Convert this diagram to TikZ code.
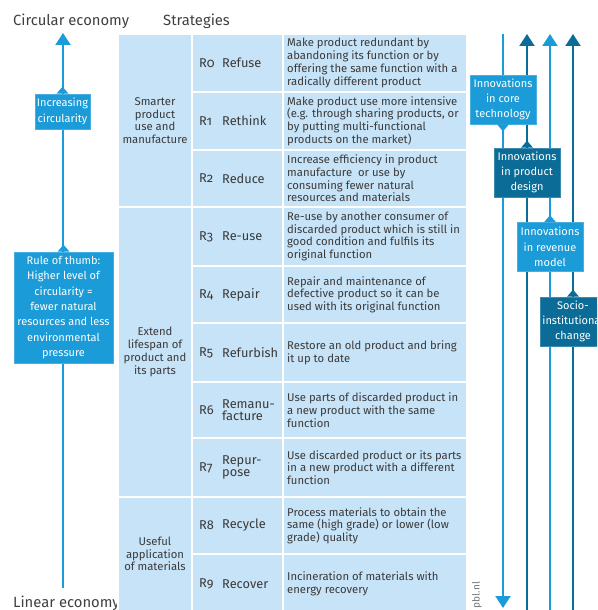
\documentclass[tikz,border=0pt]{standalone}
\usepackage{fontspec}
\setmainfont{Fira Sans}[Numbers=OldStyle]
\usetikzlibrary{arrows.meta}
\definecolor{bright}{HTML}{1B9BD8}
\definecolor{deep}{HTML}{0B6D97}
\definecolor{cellbg}{HTML}{C7E3F7}
\definecolor{txt}{HTML}{3A3A3A}
\newcommand\stratrow[6]{%
  \node[cellbox, minimum width=91, minimum height={#3-#2}] (r#1) at (237.5,{(#2+#3)/2}) {};
  \node[rlab, anchor=west] (rn#1) at (199,{(#2+#3)/2}) {#4};
  \node[rlab, anchor=west, align=left] (rs#1) at (222,{(#2+#3)/2}) {#5};
  \node[cellbox, minimum width=184, minimum height={#3-#2}] (d#1) at (375,{(#2+#3)/2}) {};
  \node[rtxt, anchor=west, align=left] (dt#1) at (287,{(#2+#3)/2}) {#6};
}
\begin{document}
\begin{tikzpicture}[x=1pt,y=-1pt,
  font=\fontsize{11.3}{12.7}\selectfont,
  cellbox/.style={fill=cellbg, draw=white, line width=2pt, inner sep=0pt, outer sep=0pt},
  rtxt/.style={text=txt, inner sep=0pt, font=\fontsize{11.3}{12.7}\selectfont},
  rlab/.style={text=txt, inner sep=0pt, font=\fontsize{12.8}{12.3}\selectfont},
  grptxt/.style={text=txt, inner sep=0pt, align=center, font=\fontsize{11.3}{12.7}\selectfont},
  bbox/.style={fill=#1, draw=#1!80!white, line width=0.6pt, text=white, align=center, inner sep=1pt,
    font=\fontsize{11}{15.3}\selectfont, minimum width=66, minimum height=49},
  head/.style={text=black!75, inner sep=0pt, anchor=west, font=\fontsize{14.8}{16}\selectfont},
  arr/.style={line width=2pt, -{Triangle[width=15pt,length=12pt]}},
]
\useasboundingbox (0,0) rectangle (597,610);
\clip (0,0) rectangle (597,610);

% headers
\node[head] (ce) at (13,21) {Circular economy};
\node[head] (st) at (163,21) {Strategies};
\node[head] (le) at (13,603) {Linear economy};

% group cells
\node[cellbox, minimum width=74, minimum height=173] (g1) at (155,120.5) {};
\node[cellbox, minimum width=74, minimum height=290] (g2) at (155,352) {};
\node[cellbox, minimum width=74, minimum height=117] (g3) at (155,555.5) {};
\node[grptxt] (g1t) at (155,120.5) {Smarter\\product\\use and\\manufacture};
\node[grptxt] (g2t) at (155,352) {Extend\\lifespan of\\product and\\its parts};
\node[grptxt] (g3t) at (155,554) {Useful\\application\\of materials};

% strategy rows
\stratrow{0}{34}{92}{R0}{Refuse}{Make product redundant by\\abandoning its function or by\\offering the same function with a\\radically different product}
\stratrow{1}{92}{150}{R1}{Rethink}{Make product use more intensive\\(e.g. through sharing products, or\\by putting multi-functional\\products on the market)}
\stratrow{2}{150}{207}{R2}{Reduce}{Increase efficiency in product\\manufacture \ or use by\\consuming fewer natural\\resources and materials}
\stratrow{3}{207}{266}{R3}{Re-use}{Re-use by another consumer of\\discarded product which is still in\\good condition and fulfils its\\original function}
\stratrow{4}{266}{323}{R4}{Repair}{Repair and maintenance of\\defective product so it can be\\used with its original function}
\stratrow{5}{323}{382}{R5}{Refurbish}{Restore an old product and bring\\it up to date}
\stratrow{6}{382}{438}{R6}{Remanu-\\facture}{Use parts of discarded product in\\a new product with the same\\function}
\stratrow{7}{438}{497}{R7}{Repur-\\pose}{Use discarded product or its parts\\in a new product with a different\\function}
\stratrow{8}{497}{554}{R8}{Recycle}{Process materials to obtain the\\same (high grade) or lower (low\\grade) quality}
\stratrow{9}{554}{614}{R9}{Recover}{Incineration of materials with\\energy recovery}

% left arrow
\coordinate (lbot) at (63,588);
\coordinate (ltop) at (63,33);
\draw[arr, bright] (lbot) -- (ltop);
\node[bbox=bright, minimum width=55, minimum height=35] (inc) at (62.5,111.5) {Increasing\\circularity};
\fill[bright] ([xshift=-6pt]inc.north) -- ([yshift=7pt]inc.north) -- ([xshift=6pt]inc.north) -- cycle;
\node[bbox=bright, minimum width=99, minimum height=111] (rule) at (63.5,307.5) {Rule of thumb:\\Higher level of\\circularity =\\fewer natural\\resources and less\\environmental\\pressure};
\fill[bright] ([xshift=-6pt]rule.north) -- ([yshift=7pt]rule.north) -- ([xshift=6pt]rule.north) -- cycle;

% right arrows
\coordinate (at) at (503,34);
\coordinate (ab) at (503,608);
\draw[arr, bright] (at) -- (ab);
\coordinate (bt) at (527,34);
\coordinate (bb) at (527,614);
\draw[arr, deep] (bb) -- (bt);
\coordinate (ct) at (550,34);
\coordinate (cb) at (550,614);
\draw[arr, bright] (cb) -- (ct);
\coordinate (dt) at (573,34);
\coordinate (db) at (573,614);
\draw[arr, deep] (db) -- (dt);

% right boxes
\node[bbox=bright] (core) at (503,99.5) {Innovations\\in core\\technology};
\fill[bright] ([xshift=-6pt]core.south) -- ([yshift=-7pt]core.south) -- ([xshift=6pt]core.south) -- cycle;
\node[bbox=deep] (design) at (527,172.5) {Innovations\\in product\\design};
\fill[deep] ([xshift=-6pt]design.north) -- ([yshift=7pt]design.north) -- ([xshift=6pt]design.north) -- cycle;
\node[bbox=bright] (rev) at (550,247) {Innovations\\in revenue\\model};
\fill[bright] ([xshift=-6pt]rev.north) -- ([yshift=7pt]rev.north) -- ([xshift=6pt]rev.north) -- cycle;
\node[bbox=deep] (socio) at (573,321.5) {Socio-\\institutional\\change};
\fill[deep] ([xshift=-6pt]socio.north) -- ([yshift=7pt]socio.north) -- ([xshift=6pt]socio.north) -- cycle;

% credit
\node[rotate=90, text=black!55, inner sep=0pt, font=\fontsize{10}{11}\selectfont] (pbl) at (477,595) {pbl.nl};
\end{tikzpicture}
\end{document}
